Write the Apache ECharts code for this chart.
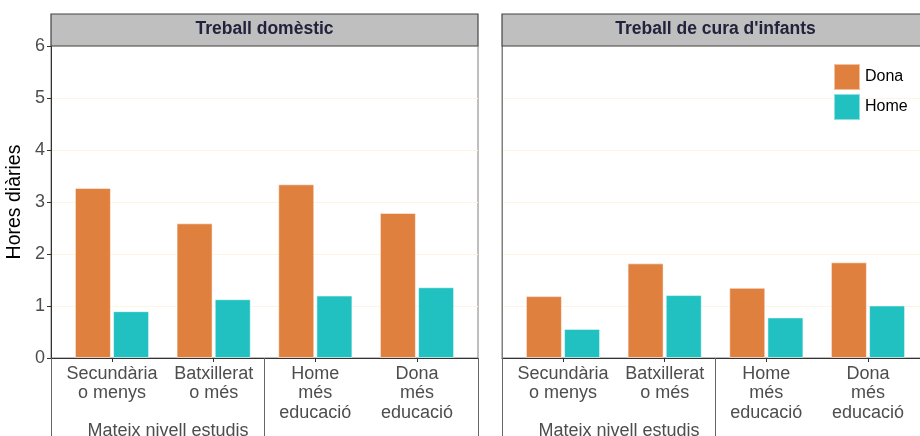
<!DOCTYPE html>
<html>
<head>
<meta charset="utf-8">
<script src="https://cdn.jsdelivr.net/npm/echarts@6/dist/echarts.min.js"></script>
<style>
  html, body { margin: 0; padding: 0; background: #fff; }
  #chart { width: 920px; height: 436px; }
</style>
</head>
<body>
<div id="chart"></div>
<script>
// categories and values
var categories = ["Secundària\no menys", "Batxillerat\no més", "Home\nmés\neducació", "Dona\nmés\neducació"];
var panelTitles = ["Treball domèstic", "Treball de cura d'infants"];
var groupLabel = "Mateix nivell estudis";
var domesticDona = [3.27, 2.59, 3.34, 2.79];
var domesticHome = [0.90, 1.13, 1.20, 1.36];
var careDona = [1.19, 1.82, 1.35, 1.84];
var careHome = [0.56, 1.21, 0.78, 1.01];
var yTicks = [0, 1, 2, 3, 4, 5, 6];

var ORANGE = "#e0803f";
var TEAL = "#20c1c0";
var FONT = "Liberation Sans";

var panelLeft = [51, 502];
var panelWidth = 427;

function pairs(vals) {
  return vals.map(function (v, i) { return [i + 1, v]; });
}

var grids = [], xAxes = [], yAxes = [], series = [], titles = [], graphics = [];
[[domesticDona, domesticHome], [careDona, careHome]].forEach(function (p, k) {
  grids.push({
    left: panelLeft[k], width: panelWidth, top: 46, bottom: 78,
    outerBoundsMode: "none", containLabel: false,
    show: true, borderColor: "#7f7f7f", borderWidth: 1
  });
  // main category-like axis
  xAxes.push({
    type: "value", gridIndex: k, min: 0.4, max: 4.6,
    axisLine: { show: true, lineStyle: { color: "#333", width: 1 } },
    axisTick: { show: true, customValues: [1, 2, 3, 4], length: 4, lineStyle: { color: "#333" } },
    axisLabel: {
      customValues: [1, 2, 3, 4], color: "#4d4d4d", fontSize: 18, fontFamily: FONT,
      lineHeight: 19.5, margin: 6,
      formatter: function (v) { return categories[Math.round(v) - 1]; }
    },
    splitLine: { show: false }
  });
  // grouping lines and label below the axis
  xAxes.push({
    type: "value", gridIndex: k, min: 0.4, max: 4.6, position: "bottom",
    axisLine: { show: false },
    axisTick: { show: true, customValues: [0.4, 2.5, 4.6], length: 80, lineStyle: { color: "#666" } },
    axisLabel: {
      customValues: [1.55], color: "#4d4d4d", fontSize: 18, fontFamily: FONT, margin: 64,
      formatter: function () { return groupLabel; }
    },
    splitLine: { show: false }
  });
  yAxes.push({
    type: "value", gridIndex: k, min: 0, max: 6, interval: 1,
    name: k === 0 ? "Hores diàries" : "",
    nameLocation: "middle", nameGap: 26,
    nameTextStyle: { color: "#000", fontSize: 19.5, fontFamily: FONT },
    axisLine: { show: true, lineStyle: { color: k === 0 ? "#333" : "#7f7f7f" } },
    axisTick: { show: k === 0, length: 4, lineStyle: { color: "#333" } },
    axisLabel: {
      show: k === 0, color: "#4d4d4d", fontSize: 18, fontFamily: FONT, margin: 6,
      customValues: yTicks
    },
    splitLine: { show: true, lineStyle: { color: "#fdf5e2", width: 1 } }
  });
  series.push({
    name: "Dona", type: "bar", xAxisIndex: 2 * k, yAxisIndex: k,
    barWidth: 36, barGap: "6%", data: pairs(p[0]),
    itemStyle: { color: ORANGE, borderColor: "rgba(255,255,255,0.5)", borderWidth: 1 }
  });
  series.push({
    name: "Home", type: "bar", xAxisIndex: 2 * k, yAxisIndex: k,
    barWidth: 36, barGap: "6%", data: pairs(p[1]),
    itemStyle: { color: TEAL, borderColor: "rgba(255,255,255,0.5)", borderWidth: 1 }
  });
  titles.push({
    text: panelTitles[k], left: panelLeft[k] + panelWidth / 2, top: 20, textAlign: "center",
    padding: 0,
    textStyle: { color: "#22223d", fontSize: 17.5, fontWeight: "bold", fontFamily: FONT }
  });
  graphics.push({
    type: "rect", z: 1,
    shape: { x: panelLeft[k], y: 14, width: panelWidth, height: 32 },
    style: { fill: "#bfbfbf", stroke: "#444", lineWidth: 1.2 }
  });
});

var chart = echarts.init(document.getElementById("chart"));
chart.setOption({
  animation: false,
  backgroundColor: "#fff",
  title: titles,
  graphic: graphics,
  legend: {
    data: ["Dona", "Home"], orient: "vertical", left: 833, top: 63, padding: 0,
    itemWidth: 26, itemHeight: 26, itemGap: 2, icon: "rect",
    textStyle: { color: "#000", fontSize: 16, fontFamily: FONT }
  },
  grid: grids,
  xAxis: xAxes,
  yAxis: yAxes,
  series: series
});
</script>
</body>
</html>
